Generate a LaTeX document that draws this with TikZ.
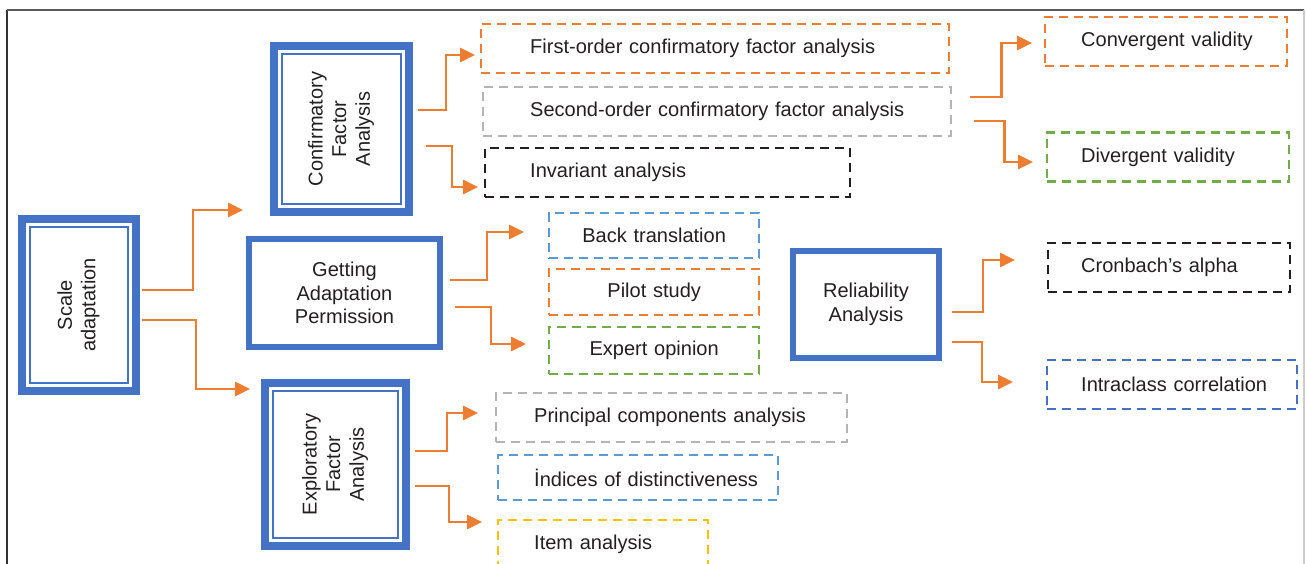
\documentclass[tikz,border=0pt]{standalone}
\usepackage{fontspec}
\setmainfont{Liberation Sans}
\usepackage{graphicx}
\usetikzlibrary{arrows.meta,calc,positioning}
\definecolor{boxblue}{RGB}{68,114,196}
\definecolor{arrorange}{RGB}{237,125,49}
\definecolor{lightblue}{RGB}{91,155,213}
\definecolor{midgray}{RGB}{180,180,180}
\definecolor{leafgreen}{RGB}{112,173,71}
\definecolor{leafyellow}{RGB}{255,192,0}
\definecolor{inkblack}{RGB}{35,31,32}
\newcommand{\vlabel}[1]{\rotatebox{90}{\begin{tabular}{@{}c@{}}#1\end{tabular}}}

\begin{document}
\begin{tikzpicture}[x=0.02cm, y=-0.02cm,
  font=\fontsize{11.4}{13.4}\selectfont, text=inkblack,
  main/.style={draw=boxblue, line width=0.115cm, align=center},
  dbl/.style={main, line width=0.15cm,
    path picture={\draw[boxblue, line width=0.04cm]
      ([shift={(0.16cm,0.16cm)}]path picture bounding box.south west) rectangle
      ([shift={(-0.16cm,-0.16cm)}]path picture bounding box.north east);}},
  leaf/.style={draw=#1, line width=0.048cm, dash pattern=on 0.18cm off 0.12cm,
    anchor=west, minimum height=0.98cm, inner xsep=0pt, inner ysep=0pt, align=left},
  padl/.style={execute at begin node={\hspace*{#1}}},
  arr/.style={draw=arrorange, line width=0.055cm, -{Triangle[length=0.3cm, width=0.28cm]}}
]
\path[use as bounding box, clip] (0,0) rectangle (1306,564);
\draw[line width=0.03cm, black!80] (7,564) -- (7,10);
\draw[line width=0.03cm, black!65] (7,10) -- (1304,10);
\draw[line width=0.03cm, black!20] (1304,10) -- (1304,564);

\node[dbl, minimum width=2.29cm, minimum height=3.45cm] (scale) at (79,305) {\vlabel{Scale\\adaptation}};
\node[dbl, minimum width=2.71cm, minimum height=3.33cm] (cfa) at (341.5,129) {\vlabel{Confirmatory\\Factor\\Analysis}};
\node[dbl, minimum width=2.83cm, minimum height=3.27cm] (efa) at (335.5,464.5) {\vlabel{Exploratory\\Factor\\Analysis}};
\node[main, minimum width=3.83cm, minimum height=2.17cm] (getting) at (344.5,293) {Getting\\Adaptation\\Permission};
\node[main, minimum width=2.93cm, minimum height=2.15cm] (rel) at (866,304.5) {Reliability\\Analysis};

\node[leaf=arrorange, text width=9.36cm, padl=0.98cm] (first) at (480,48.5) {First-order confirmatory factor analysis};
\node[leaf=midgray, text width=9.36cm, padl=0.94cm] (second) at (482,111.5) {Second-order confirmatory factor analysis};
\node[leaf=inkblack, text width=7.3cm, padl=0.9cm] (invariant) at (484,172.5) {Invariant analysis};

\node[leaf=lightblue, text width=4.2cm, align=center, minimum height=0.9cm] (back) at (548,235.5) {Back translation};
\node[leaf=arrorange, text width=4.2cm, align=center, minimum height=0.92cm] (pilot) at (548,292) {Pilot study};
\node[leaf=leafgreen, text width=4.2cm, align=center, minimum height=0.94cm] (expert) at (548,350.5) {Expert opinion};

\node[leaf=midgray, text width=7.02cm, padl=0.76cm] (pca) at (495,417.5) {Principal components analysis};
\node[leaf=lightblue, text width=5.6cm, padl=0.72cm, minimum height=0.9cm] (indices) at (497,477.5) {İndices of distinctiveness};
\node[leaf=leafyellow, text width=4.2cm, padl=0.72cm] (item) at (497,544.5) {Item analysis};

\node[leaf=arrorange, text width=4.84cm, padl=0.72cm] (conv) at (1044,41.5) {Convergent validity};
\node[leaf=leafgreen, text width=4.84cm, padl=0.68cm] (div) at (1046,157) {Divergent validity};
\node[leaf=inkblack, text width=4.84cm, padl=0.66cm] (cron) at (1047,267.5) {Cronbach’s alpha};
\node[leaf=boxblue, text width=5.0cm, padl=0.68cm] (intra) at (1046,384.5) {Intraclass correlation};

\draw[arr, shorten <=0.04cm, shorten >=0.54cm] (scale.east |- 0,290) -- ++(53,0) |- (cfa.west |- 0,210);
\draw[arr, shorten <=0.04cm, shorten >=0.22cm] (scale.east |- 0,320) -- ++(56,0) |- (efa.west |- 0,389);
\draw[arr, shorten <=0.1cm, shorten >=0.1cm] (cfa.east |- 0,110) -- ++(33,0) |- (first.west |- 0,55);
\draw[arr, shorten <=0.26cm, shorten >=0.12cm] (cfa.east |- 0,146) -- ++(39,0) |- (invariant.west |- 0,187);
\draw[arr, shorten <=0.14cm, shorten >=0.48cm] (getting.east |- 0,280) -- ++(44,0) |- (back.west |- 0,232);
\draw[arr, shorten <=0.24cm, shorten >=0.44cm] (getting.east |- 0,307) -- ++(48,0) |- (expert.west |- 0,344);
\draw[arr, shorten <=0.1cm, shorten >=0.34cm] (efa.east |- 0,451) -- ++(37,0) |- (pca.west |- 0,413);
\draw[arr, shorten <=0.1cm, shorten >=0.3cm] (efa.east |- 0,486) -- ++(39,0) |- (item.west |- 0,522);
\draw[arr, shorten <=0.36cm, shorten >=0.24cm] (second.east |- 0,97) -- ++(49,0) |- (conv.west |- 0,43);
\draw[arr, shorten <=0.44cm, shorten >=0.26cm] (second.east |- 0,121) -- ++(52,0) |- (div.west |- 0,162);
\draw[arr, shorten <=0.2cm, shorten >=0.64cm] (rel.east |- 0,312) -- ++(41,0) |- (cron.west |- 0,260);
\draw[arr, shorten <=0.2cm, shorten >=0.66cm] (rel.east |- 0,342) -- ++(40,0) |- (intra.west |- 0,382);
\end{tikzpicture}
\end{document}
